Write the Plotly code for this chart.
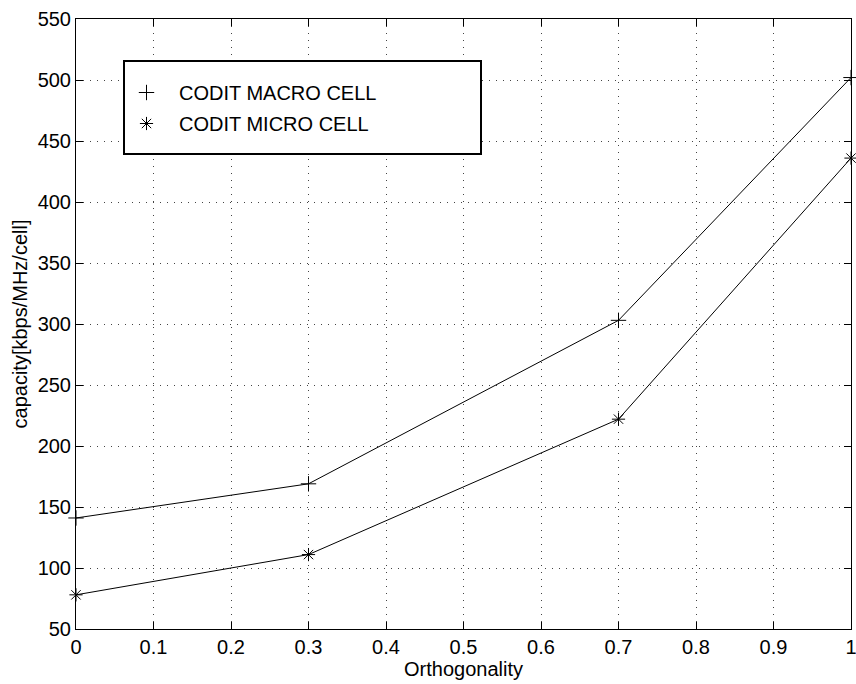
import plotly.graph_objects as go

orthogonality = [0, 0.3, 0.7, 1.0]
macro_capacity = [141, 169, 303, 502]
micro_capacity = [78, 111, 222, 436]
series_names = ["CODIT MACRO CELL", "CODIT MICRO CELL"]
x_ticks = [0, 0.1, 0.2, 0.3, 0.4, 0.5, 0.6, 0.7, 0.8, 0.9, 1]
x_tick_text = ["0", "0.1", "0.2", "0.3", "0.4", "0.5", "0.6", "0.7", "0.8", "0.9", "1"]
y_ticks = [50, 100, 150, 200, 250, 300, 350, 400, 450, 500, 550]

FONT = "Liberation Sans, Arial, Helvetica, sans-serif"

fig = go.Figure()
fig.add_trace(go.Scatter(x=orthogonality, y=macro_capacity, mode="lines+markers",
                         line=dict(color="black", width=1),
                         marker=dict(symbol="cross-thin-open", size=11, color="black",
                                     line=dict(color="black", width=1)),
                         showlegend=False, cliponaxis=False))
fig.add_trace(go.Scatter(x=orthogonality, y=micro_capacity, mode="lines+markers",
                         line=dict(color="black", width=1),
                         marker=dict(symbol="asterisk-open", size=11, color="black",
                                     line=dict(color="black", width=1)),
                         showlegend=False, cliponaxis=False))
# legend entries (markers only)
fig.add_trace(go.Scatter(x=[None], y=[None], mode="markers", name=series_names[0],
                         marker=dict(symbol="cross-thin-open", size=11, color="black",
                                     line=dict(color="black", width=1)),
                         legendgroup="a"))
fig.add_trace(go.Scatter(x=[None], y=[None], mode="markers", name=series_names[1],
                         marker=dict(symbol="asterisk-open", size=11, color="black",
                                     line=dict(color="black", width=1)),
                         legendgroup="b"))

L, R, T, B = 76, 5, 19, 55
W, H = 856, 684
pw, ph = W - L - R, H - T - B

def px_x(p):
    return (p - L) / pw

def px_y(p):
    return (H - B - p) / ph

fig.add_shape(type="rect", xref="paper", yref="paper",
              x0=px_x(124), x1=px_x(481), y0=px_y(154), y1=px_y(61),
              line=dict(color="black", width=2), fillcolor="white", layer="above")

axis_common = dict(
    showline=True, linecolor="black", linewidth=1, mirror="ticks",
    ticks="inside", ticklen=7, tickcolor="black", tickwidth=1,
    showgrid=True, gridcolor="#444", gridwidth=1, griddash="1px,6px",
    zeroline=False, tickfont=dict(family=FONT, size=20, color="black"),
    ticklabeloverflow="allow", automargin=False,
)

fig.update_layout(
    width=W, height=H,
    margin=dict(l=L, r=R, t=T, b=B, pad=0, autoexpand=False),
    paper_bgcolor="white", plot_bgcolor="white",
    font=dict(family=FONT, size=20, color="black"),
    xaxis=dict(range=[0, 1.0000001], tickvals=x_ticks, ticktext=x_tick_text,
               title=dict(text="Orthogonality", standoff=2, font=dict(size=20)),
               **axis_common),
    yaxis=dict(range=[50, 550], tickvals=y_ticks,
               title=dict(text="capacity[kbps/MHz/cell]", standoff=4, font=dict(size=20)),
               **axis_common),
    legend=dict(x=px_x(114), y=px_y(73), xanchor="left", yanchor="top",
                bgcolor="rgba(0,0,0,0)", borderwidth=0, itemwidth=55,
                font=dict(family=FONT, size=20, color="black"),
                traceorder="grouped", tracegroupgap=2),
)

fig.write_html("out.html")
